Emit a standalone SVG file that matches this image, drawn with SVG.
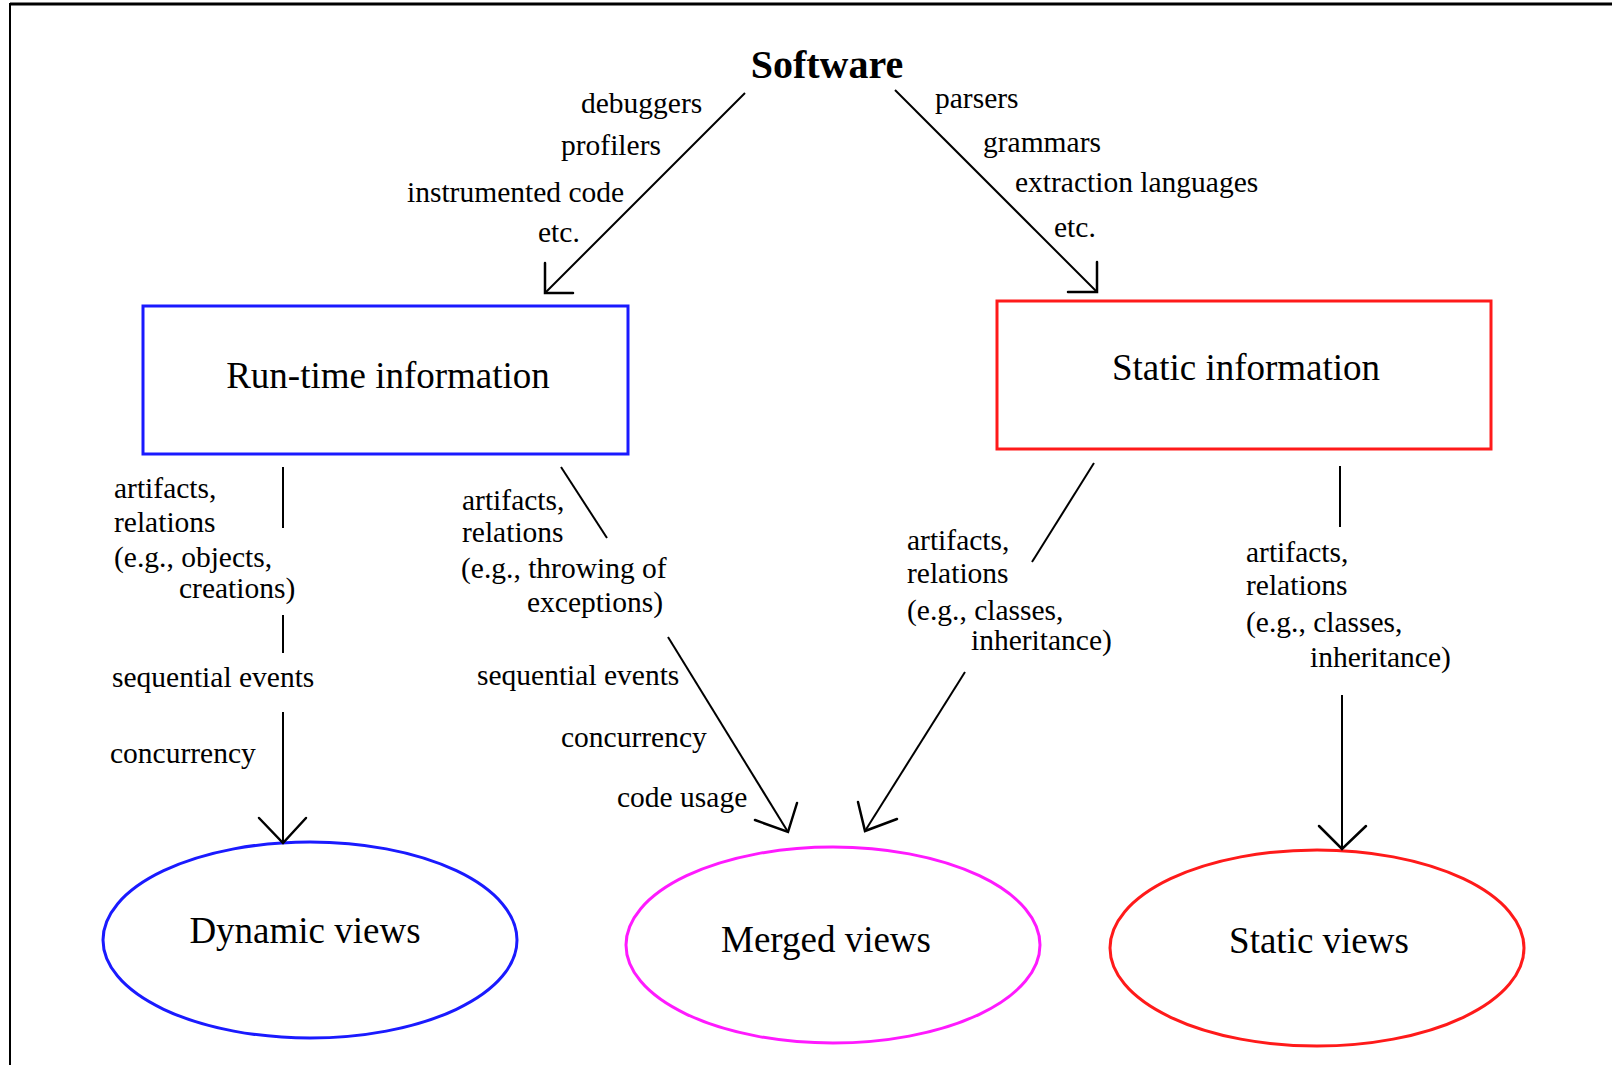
<svg xmlns="http://www.w3.org/2000/svg" width="1612" height="1065" viewBox="0 0 1612 1065">
<style>
.lbl{font-family:"Liberation Serif","Times New Roman",serif;font-size:29.5px;fill:#000}
.big{font-family:"Liberation Serif","Times New Roman",serif;font-size:37px;fill:#000}
.title{font-family:"Liberation Serif","Times New Roman",serif;font-size:40px;font-weight:bold;fill:#000}
.ln{stroke:#000;stroke-width:2;fill:none}
.hd{stroke:#000;stroke-width:2.5;fill:none;stroke-linecap:round;stroke-linejoin:miter}
</style>
<rect width="1612" height="1065" fill="#fff"/>
<path d="M10,1065 V4 H1612" fill="none" stroke="#000" stroke-width="2"/>
<path d="M10,4 H1612" fill="none" stroke="#000" stroke-width="3"/>

<g id="software">
<text class="title" x="827" y="78" text-anchor="middle">Software</text>
</g>

<g id="runtime-info">
<rect x="143" y="306" width="485" height="148" fill="none" stroke="#1a1aff" stroke-width="3"/>
<text class="big" x="388" y="388" text-anchor="middle">Run-time information</text>
</g>

<g id="static-info">
<rect x="997" y="301" width="494" height="148" fill="none" stroke="#ff1a1a" stroke-width="3"/>
<text class="big" x="1246" y="380" text-anchor="middle">Static information</text>
</g>

<g id="dynamic-views">
<ellipse cx="310" cy="940" rx="207" ry="98" fill="none" stroke="#1a1aff" stroke-width="3"/>
<text class="big" x="305" y="943" text-anchor="middle">Dynamic views</text>
</g>

<g id="merged-views">
<ellipse cx="833" cy="945" rx="207" ry="98" fill="none" stroke="#ff1aff" stroke-width="3"/>
<text class="big" x="826" y="952" text-anchor="middle">Merged views</text>
</g>

<g id="static-views">
<ellipse cx="1317" cy="948" rx="207" ry="98" fill="none" stroke="#ff1a1a" stroke-width="3"/>
<text class="big" x="1319" y="953" text-anchor="middle">Static views</text>
</g>

<g id="connectors">
<line class="ln" x1="745" y1="93" x2="545" y2="293"/>
<path class="hd" d="M545,263 V293 H573"/>
<line class="ln" x1="895" y1="90" x2="1097" y2="292"/>
<path class="hd" d="M1097,262 V292 H1068"/>

<line class="ln" x1="283" y1="467" x2="283" y2="528"/>
<line class="ln" x1="283" y1="615" x2="283" y2="653"/>
<line class="ln" x1="283" y1="712" x2="283" y2="843"/>
<path class="hd" d="M259,818 L283,843 L306,818"/>

<line class="ln" x1="561" y1="467" x2="607" y2="538"/>
<line class="ln" x1="668" y1="637" x2="788" y2="832"/>
<path class="hd" d="M755,820 L788,832 L797,803" stroke-width="3"/>

<line class="ln" x1="1094" y1="463" x2="1032" y2="562"/>
<line class="ln" x1="965" y1="672" x2="865" y2="831"/>
<path class="hd" d="M858,802 L865,831 L897,819" stroke-width="3"/>

<line class="ln" x1="1340" y1="466" x2="1340" y2="527"/>
<line class="ln" x1="1342" y1="695" x2="1342" y2="849"/>
<path class="hd" d="M1319,826 L1342,849 L1366,826"/>
</g>

<g id="labels">
<text class="lbl" x="581" y="113">debuggers</text>
<text class="lbl" x="561" y="155">profilers</text>
<text class="lbl" x="407" y="202">instrumented code</text>
<text class="lbl" x="538" y="242">etc.</text>

<text class="lbl" x="935" y="108">parsers</text>
<text class="lbl" x="983" y="152">grammars</text>
<text class="lbl" x="1015" y="192">extraction languages</text>
<text class="lbl" x="1054" y="237">etc.</text>

<text class="lbl" x="114" y="498">artifacts,</text>
<text class="lbl" x="114" y="532">relations</text>
<text class="lbl" x="114" y="567">(e.g., objects,</text>
<text class="lbl" x="179" y="598">creations)</text>
<text class="lbl" x="112" y="687">sequential events</text>
<text class="lbl" x="110" y="763">concurrency</text>

<text class="lbl" x="462" y="510">artifacts,</text>
<text class="lbl" x="462" y="542">relations</text>
<text class="lbl" x="461" y="578">(e.g., throwing of</text>
<text class="lbl" x="527" y="612">exceptions)</text>
<text class="lbl" x="477" y="685">sequential events</text>
<text class="lbl" x="561" y="747">concurrency</text>
<text class="lbl" x="617" y="807">code usage</text>

<text class="lbl" x="907" y="550">artifacts,</text>
<text class="lbl" x="907" y="583">relations</text>
<text class="lbl" x="907" y="620">(e.g., classes,</text>
<text class="lbl" x="971" y="650">inheritance)</text>

<text class="lbl" x="1246" y="562">artifacts,</text>
<text class="lbl" x="1246" y="595">relations</text>
<text class="lbl" x="1246" y="632">(e.g., classes,</text>
<text class="lbl" x="1310" y="667">inheritance)</text>
</g>
</svg>
